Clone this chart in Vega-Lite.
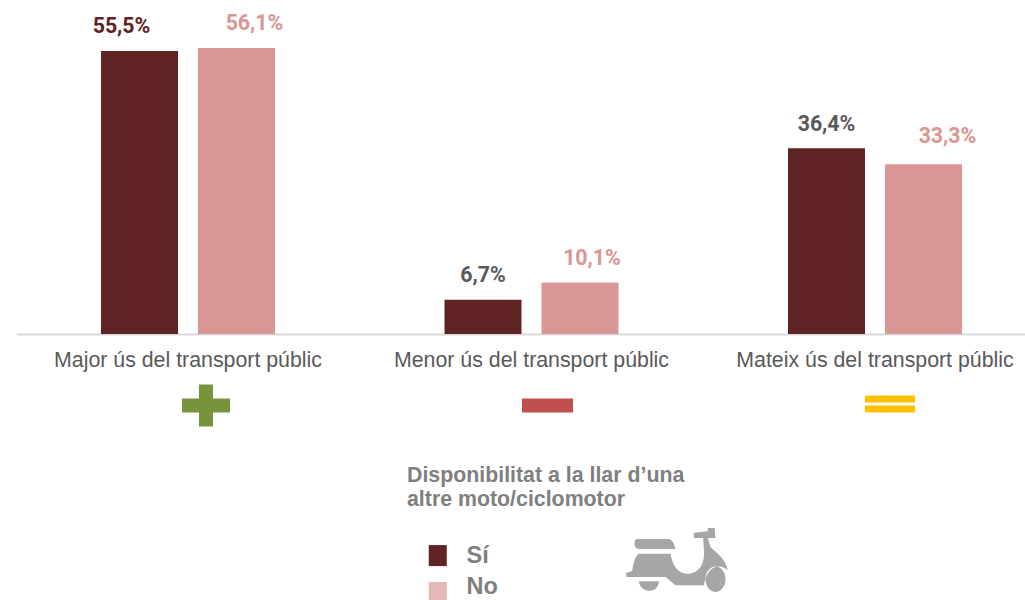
{
"$schema":"https://vega.github.io/schema/vega-lite/v6.json",
"width":1025,"height":334,"autosize":{"type":"none"},
"padding":{"left":0,"top":0,"right":0,"bottom":266},
"background":"white",
"view":{"stroke":null},
"config":{"axis":{"grid":false}},
"datasets":{
"bars":[
{"us":"Major ús del transport públic","moto":"Sí","pct":55.5,"etiqueta":"55,5%"},
{"us":"Major ús del transport públic","moto":"No","pct":56.1,"etiqueta":"56,1%"},
{"us":"Menor ús del transport públic","moto":"Sí","pct":6.7,"etiqueta":"6,7%"},
{"us":"Menor ús del transport públic","moto":"No","pct":10.1,"etiqueta":"10,1%"},
{"us":"Mateix ús del transport públic","moto":"Sí","pct":36.4,"etiqueta":"36,4%"},
{"us":"Mateix ús del transport públic","moto":"No","pct":33.3,"etiqueta":"33,3%"}],
"icons":[
{"us":"Major ús del transport públic","icon":"mes","pos":-14},
{"us":"Menor ús del transport públic","icon":"menys","pos":-14},
{"us":"Mateix ús del transport públic","icon":"igual","pos":-14},
{"us":"Menor ús del transport públic","icon":"moto","pos":-44.5}]
},
"encoding":{
"x":{"field":"us","type":"nominal","sort":["Major ús del transport públic","Menor ús del transport públic","Mateix ús del transport públic"],
"scale":{"range":[16.25,1046.75],"paddingInner":0,"paddingOuter":0},
"axis":{"title":null,"labelAngle":0,"labelFont":"Liberation Sans","labelFontSize":21.33,"labelColor":"#595959","labelPadding":15,"labelLimit":400,"ticks":false,"domainColor":"#D9D9D9","domainWidth":2}}
},
"layer":[
{"data":{"name":"bars"},
"mark":{"type":"bar"},
"encoding":{
"xOffset":{"field":"moto","type":"nominal","scale":{"domain":["Sí","No"],"paddingInner":0.206,"paddingOuter":0.874}},
"y":{"field":"pct","type":"quantitative","scale":{"domain":[0,65.49],"nice":false},"axis":null},
"color":{"field":"moto","type":"nominal","scale":{"domain":["Sí","No"],"range":["#5F2323","#D99694"]},
"legend":{"orient":"none","legendX":407,"legendY":464.5,"title":["Disponibilitat a la llar d’una","altre moto/ciclomotor"],"titleFont":"Liberation Sans","titleFontSize":21.33,"titleFontWeight":"bold","titleColor":"#7F7F7F","titleLineHeight":24,"titlePadding":34,"titleLimit":400,
"labelFont":"Liberation Sans","labelFontSize":23.5,"labelFontWeight":"bold","labelColor":"#7F7F7F","labelOffset":36,
"symbolType":"M1.0,-1.05H2.8V1.05H1.0Z","symbolSize":400,"symbolStrokeWidth":0,"rowPadding":6,"padding":0,"offset":0,
"encoding":{"symbols":{"opacity":{"condition":{"test":"datum.value==='No'","value":0.68},"value":1}},
"labels":{"dy":{"condition":{"test":"datum.value==='No'","value":-6},"value":0}}}}}
}},
{"data":{"name":"icons"},"transform":[{"filter":"datum.icon==='mes'"}],
"mark":{"type":"point","filled":true,"opacity":1,"size":4,"strokeWidth":0,"color":"#77933C","xOffset":18,
"shape":"M-7,-21H7V-7H24V7H7V21H-7V7H-24V-7H-7Z"},
"encoding":{"y":{"field":"pos","type":"quantitative"}}},
{"data":{"name":"icons"},"transform":[{"filter":"datum.icon==='menys'"}],
"mark":{"type":"point","filled":true,"opacity":1,"size":4,"strokeWidth":0,"color":"#C0504D","xOffset":16,
"shape":"M-25.5,-7H25.5V7H-25.5Z"},
"encoding":{"y":{"field":"pos","type":"quantitative"}}},
{"data":{"name":"icons"},"transform":[{"filter":"datum.icon==='igual'"}],
"mark":{"type":"point","filled":true,"opacity":1,"size":4,"strokeWidth":0,"color":"#FFC000","xOffset":15,
"shape":"M-25,-10H25V-3H-25ZM-25,0H25V7H-25Z"},
"encoding":{"y":{"field":"pos","type":"quantitative"}}},
{"data":{"name":"icons"},"transform":[{"filter":"datum.icon==='moto'"}],
"mark":{"type":"point","filled":true,"opacity":1,"size":4,"strokeWidth":0,"color":"#A6A6A6","xOffset":145,
"shape":"M-37.7,-7.3H-6C-4.3,2.7 0.7,12.7 10.7,12.7C22.3,12.7 29,2.7 27.3,-12.3L26.7,-23H31.3L34,-14C40.7,-7.3 49,-2.3 51.3,9.3C44,2.7 31.3,2.7 27.3,24.3H-1L-11,16H-50.3V11.7L-44.3,10C-43.3,2.7 -42,-4 -37.7,-7.3ZM-40,-22H-8C-4,-22 -2,-16 -1,-12H-37C-41,-12 -42,-15 -42,-18C-42,-20 -41,-22 -40,-22ZM17.3,-28.3L31.3,-29.7V-33H38L39,-23H17.3ZM-37.7,20.3H-17.7C-18,33 -36,33 -37.7,20.3ZM29,18.3A10,12.7 0 1 0 49,18.3A10,12.7 0 1 0 29,18.3Z"},
"encoding":{"y":{"field":"pos","type":"quantitative"}}},
{"data":{"name":"bars"},"transform":[{"filter":"datum.etiqueta==='55,5%'"}],
"mark":{"type":"text","font":"Roboto","fontSize":21.33,"fontWeight":"bold","color":"#5F2323","dx":-18,"dy":-24},
"encoding":{"xOffset":{"field":"moto","type":"nominal","scale":{"domain":["Sí","No"],"paddingInner":0.206,"paddingOuter":0.874}},"y":{"field":"pct","type":"quantitative"},"text":{"field":"etiqueta"}}},
{"data":{"name":"bars"},"transform":[{"filter":"datum.etiqueta==='56,1%'"}],
"mark":{"type":"text","font":"Roboto","fontSize":21.33,"fontWeight":"bold","color":"#D99694","dx":18,"dy":-24},
"encoding":{"xOffset":{"field":"moto","type":"nominal","scale":{"domain":["Sí","No"],"paddingInner":0.206,"paddingOuter":0.874}},"y":{"field":"pct","type":"quantitative"},"text":{"field":"etiqueta"}}},
{"data":{"name":"bars"},"transform":[{"filter":"datum.etiqueta==='6,7%'"}],
"mark":{"type":"text","font":"Roboto","fontSize":21.33,"fontWeight":"bold","color":"#595959","dx":0,"dy":-24},
"encoding":{"xOffset":{"field":"moto","type":"nominal","scale":{"domain":["Sí","No"],"paddingInner":0.206,"paddingOuter":0.874}},"y":{"field":"pct","type":"quantitative"},"text":{"field":"etiqueta"}}},
{"data":{"name":"bars"},"transform":[{"filter":"datum.etiqueta==='10,1%'"}],
"mark":{"type":"text","font":"Roboto","fontSize":21.33,"fontWeight":"bold","color":"#D99694","dx":12,"dy":-23},
"encoding":{"xOffset":{"field":"moto","type":"nominal","scale":{"domain":["Sí","No"],"paddingInner":0.206,"paddingOuter":0.874}},"y":{"field":"pct","type":"quantitative"},"text":{"field":"etiqueta"}}},
{"data":{"name":"bars"},"transform":[{"filter":"datum.etiqueta==='36,4%'"}],
"mark":{"type":"text","font":"Roboto","fontSize":21.33,"fontWeight":"bold","color":"#595959","dx":0,"dy":-23},
"encoding":{"xOffset":{"field":"moto","type":"nominal","scale":{"domain":["Sí","No"],"paddingInner":0.206,"paddingOuter":0.874}},"y":{"field":"pct","type":"quantitative"},"text":{"field":"etiqueta"}}},
{"data":{"name":"bars"},"transform":[{"filter":"datum.etiqueta==='33,3%'"}],
"mark":{"type":"text","font":"Roboto","fontSize":21.33,"fontWeight":"bold","color":"#D99694","dx":24,"dy":-27},
"encoding":{"xOffset":{"field":"moto","type":"nominal","scale":{"domain":["Sí","No"],"paddingInner":0.206,"paddingOuter":0.874}},"y":{"field":"pct","type":"quantitative"},"text":{"field":"etiqueta"}}}
]
}
